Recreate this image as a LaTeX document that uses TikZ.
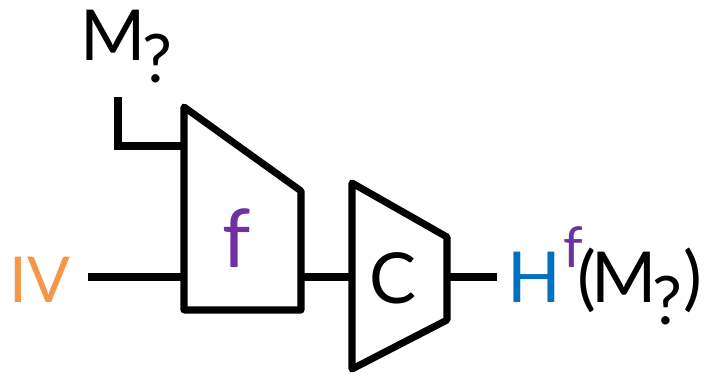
\documentclass[tikz,border=0pt]{standalone}
\usepackage{fontspec}
\setmainfont{Lato}
\usetikzlibrary{positioning}
\definecolor{ivorange}{HTML}{F79646}
\definecolor{fpurple}{HTML}{7030A0}
\definecolor{hblue}{HTML}{0070C0}
\newcommand{\qsub}{\kern-1pt\raisebox{-0.22cm}{\fontsize{19}{19}\selectfont ?}}

\begin{document}
\begin{tikzpicture}[x=0.01cm, y=-0.01cm,
  block/.style={draw, line width=2pt, line join=round},
  wire/.style={line width=2pt},
  lbl/.style={inner sep=0pt, font=\fontsize{20}{24}\selectfont}
]
\useasboundingbox (0,0) rectangle (704,375);

% Blocks
\draw[block] (184,107) -- (301,191) -- (301,310) -- (184,310) -- cycle;
\draw[block] (352,183) -- (447,237) -- (447,320) -- (352,369) -- cycle;

% Nodes
\node[lbl, anchor=base west] (m) at (80,60) {M\qsub};
\node[lbl, text=ivorange, font=\fontsize{18}{22}\selectfont] (iv) at (40,280) {IV};
\node[lbl, text=fpurple, font=\fontsize{23}{26}\selectfont] (f) at (237,238) {f};
\node[lbl] (c) at (393,278) {C};
\node[lbl, anchor=base west] (h) at (507,302) {\textcolor{hblue}{H}\kern0.5pt\raisebox{0.34cm}{\fontsize{16}{16}\selectfont\textcolor{fpurple}{f}}\kern-1.5pt(\kern-1.5pt M\qsub\kern0.3pt)};

% Ports
\coordinate (m-end) at (118,97);
\coordinate (iv-end) at (88,277);
\coordinate (h-end) at (497,277);
\coordinate (f-in1) at (184,146);
\coordinate (f-in2) at (184,277);
\coordinate (f-out) at (301,277);
\coordinate (c-in) at (352,277);
\coordinate (c-out) at (447,277);

% Wires
\draw[wire] (m-end) |- (f-in1);
\draw[wire] (iv-end) -- (f-in2);
\draw[wire] (f-out) -- (c-in);
\draw[wire] (c-out) -- (h-end);

\end{tikzpicture}
\end{document}
